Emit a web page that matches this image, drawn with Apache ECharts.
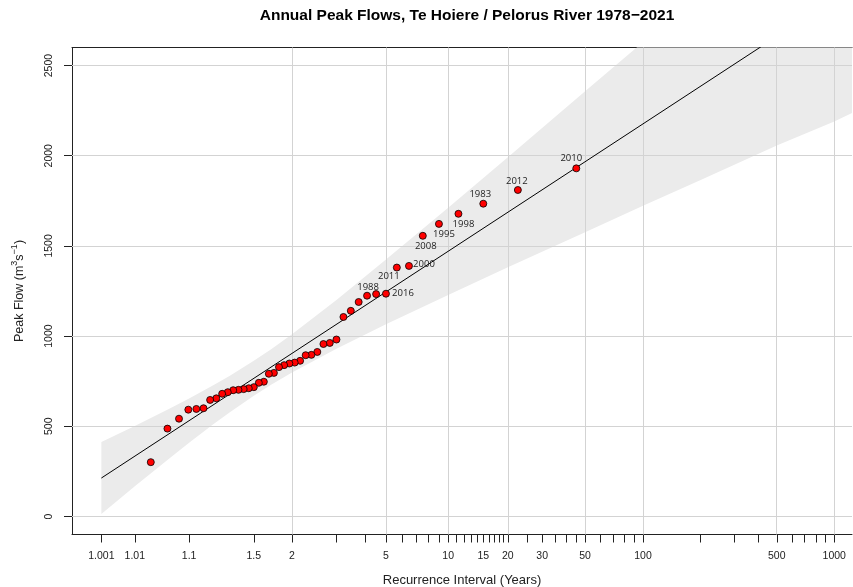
<!DOCTYPE html>
<html>
<head>
<meta charset="utf-8">
<title>Annual Peak Flows, Te Hoiere / Pelorus River</title>
<script src="https://cdn.jsdelivr.net/npm/echarts@6/dist/echarts.min.js"></script>
<style>
  html, body { margin: 0; padding: 0; background: #ffffff; }
  #chart { width: 853px; height: 587px; }
</style>
</head>
<body>
<div id="chart"></div>
<script>
// Annual maximum flows (m³/s), ranked from largest (rank 1) to smallest
const peakFlows = [
  1930, 1810, 1734, 1678, 1622, 1556, 1389, 1380, 1235, 1233,
  1224, 1189, 1140, 1106, 981, 962, 956, 912, 896, 894,
  863, 853, 848, 839, 828, 796, 791, 747, 741, 717,
  711, 706, 702, 700, 689, 680, 655, 646, 600, 596,
  592, 542, 487, 301
];
// Years of the ten largest floods, in rank order
const topYears = ['2010', '2012', '1983', '1998', '1995', '2008', '2000', '2011', '2016', '1988'];

// Fitted Gumbel (EV1) line at both ends of the return-period range
const fitPeriods = [1.001, 1000];
const fitFlows = [213, 2870];

// Confidence band around the fitted line
const bandPeriods = [1.001, 1.01, 1.05, 1.1, 1.2, 1.3, 1.5, 1.7, 2, 3, 5, 10, 20, 50, 100, 200, 500, 1000, 2000];
const bandLower   = [13, 167, 322, 409, 511, 578, 669, 731, 798, 930, 1066, 1228, 1381, 1576, 1722, 1866, 2056, 2190, 2340];
const bandUpper   = [413, 502, 597, 654, 727, 780, 863, 929, 1010, 1200, 1424, 1712, 1992, 2357, 2630, 2904, 3265, 3540, 3812];

// Return-period ticks on the Gumbel probability axis
const labelledPeriods = [1.001, 1.01, 1.1, 1.5, 2, 5, 10, 15, 20, 30, 50, 100, 500, 1000];
const minorPeriods = [3, 4, 6, 7, 8, 9, 11, 12, 13, 14, 16, 17, 18, 19, 25, 35, 40, 45,
                      60, 70, 80, 90, 200, 300, 400, 600, 700, 800, 900];
const gridPeriods = [2, 5, 10, 20, 50, 100, 500, 1000];
const flowTicks = [0, 500, 1000, 1500, 2000, 2500];

// Gumbel reduced variate of a return period T (years)
function reducedVariate(T) {
  return -Math.log(-Math.log(1 - 1 / T));
}

// Weibull plotting position T = (n + 1) / rank
const n = peakFlows.length;
const rankedPeriods = peakFlows.map((q, i) => (n + 1) / (i + 1));

// Label placement around each named point (px from the point centre)
const labelOffsets = {
  '2010': [-5, -10], '2012': [-1, -9], '1983': [-3, -9], '1998': [5, 10],
  '1995': [5, 10], '2008': [3, 10], '2000': [15, -2], '2011': [-8, 9],
  '2016': [17, 0], '1988': [-8, -7]
};

const tickText = {};
labelledPeriods.forEach(T => { tickText[reducedVariate(T).toFixed(6)] = String(T); });

const axisColor = '#222222';
const gridColor = '#d3d3d3';
const sansFont = 'Liberation Sans, Arial, sans-serif';
const xMin = -2.287;
const xMax = 7.121;

const bandData = bandPeriods.map((T, i) => [reducedVariate(T), bandLower[i], bandUpper[i]]);

const pointData = peakFlows.map((q, i) => {
  const item = { value: [reducedVariate(rankedPeriods[i]), q] };
  if (i < topYears.length) {
    const year = topYears[i];
    item.label = {
      show: true,
      formatter: year,
      position: 'inside',
      offset: labelOffsets[year],
      align: 'center',
      verticalAlign: 'middle',
      color: '#222222',
      fontFamily: 'Open Sans, sans-serif',
      fontSize: 9.5
    };
  }
  return item;
});

const chart = echarts.init(document.getElementById('chart'), null, { renderer: 'canvas' });

chart.setOption({
  animation: false,
  backgroundColor: '#ffffff',
  title: {
    text: 'Annual Peak Flows, Te Hoiere / Pelorus River 1978\u22122021',
    left: 467,
    top: 8,
    padding: 0,
    textAlign: 'center',
    textStyle: { fontFamily: sansFont, fontSize: 15.5, fontWeight: 'bold', color: '#000000' }
  },
  grid: {
    left: 72, top: 47.5, right: 1, height: 487,
    show: false,
    outerBoundsMode: 'none',
    containLabel: false
  },
  xAxis: [
    {
      type: 'value',
      min: xMin,
      max: xMax,
      name: 'Recurrence Interval (Years)',
      nameLocation: 'middle',
      nameGap: 39,
      nameTextStyle: { fontFamily: sansFont, fontSize: 13, color: axisColor },
      axisLine: { show: true, onZero: false, lineStyle: { color: axisColor, width: 1 } },
      axisTick: {
        show: true, inside: false, length: 8,
        customValues: labelledPeriods.concat(minorPeriods).map(reducedVariate),
        lineStyle: { color: axisColor, width: 1 }
      },
      axisLabel: {
        show: true, margin: 16,
        customValues: labelledPeriods.map(reducedVariate),
        formatter: v => tickText[v.toFixed(6)] || '',
        fontFamily: sansFont, fontSize: 10.5, color: axisColor
      },
      splitLine: { show: false }
    },
    {
      // frame line along the top of the plot
      type: 'value',
      position: 'top',
      min: xMin,
      max: xMax,
      axisLine: { show: true, onZero: false, lineStyle: { color: axisColor, width: 1 } },
      axisTick: { show: false },
      axisLabel: { show: false },
      splitLine: { show: false }
    }
  ],
  yAxis: {
    type: 'value',
    min: -100,
    max: 2600,
    name: '{n|Peak Flow (m}{s|3}{n|s}{s|\u22121}{n|)}',
    nameLocation: 'middle',
    nameRotate: 90,
    nameGap: 46,
    nameTextStyle: {
      color: axisColor,
      rich: {
        n: { fontFamily: sansFont, fontSize: 12.5, color: axisColor, verticalAlign: 'bottom', lineHeight: 16 },
        s: { fontFamily: sansFont, fontSize: 9, color: axisColor, verticalAlign: 'top', lineHeight: 16 }
      }
    },
    axisLine: { show: true, onZero: false, lineStyle: { color: axisColor, width: 1 } },
    axisTick: {
      show: true, inside: false, length: 8,
      customValues: flowTicks,
      lineStyle: { color: axisColor, width: 1 }
    },
    axisLabel: {
      show: true, margin: 17, rotate: 90,
      customValues: flowTicks,
      formatter: v => String(v),
      fontFamily: sansFont, fontSize: 10.5, color: axisColor
    },
    splitLine: { show: false }
  },
  series: [
    {
      // confidence band, drawn as one polygon (upper edge out, lower edge back)
      type: 'custom',
      coordinateSystem: 'cartesian2d',
      clip: true,
      silent: true,
      z: 1,
      encode: { x: 0, y: [1, 2] },
      data: bandData,
      renderItem: (params, api) => {
        if (params.dataIndex !== 0) return null;
        const upper = bandData.map(d => api.coord([d[0], d[2]]));
        const lower = bandData.map(d => api.coord([d[0], d[1]])).reverse();
        return {
          type: 'polygon',
          shape: { points: upper.concat(lower) },
          style: { fill: '#ebebeb', stroke: null }
        };
      }
    },
    {
      // reference grid, above the band but below the fit and the points
      type: 'line',
      z: 2,
      silent: true,
      data: [],
      markLine: {
        z: 2,
        silent: true,
        symbol: ['none', 'none'],
        label: { show: false },
        lineStyle: { color: gridColor, type: 'solid', width: 1 },
        data: gridPeriods.map(T => ({ xAxis: reducedVariate(T) }))
          .concat(flowTicks.map(v => ({ yAxis: v })))
      }
    },
    {
      // fitted Gumbel distribution
      type: 'line',
      z: 3,
      silent: true,
      symbol: 'none',
      lineStyle: { color: '#000000', width: 1 },
      data: fitPeriods.map((T, i) => [reducedVariate(T), fitFlows[i]])
    },
    {
      type: 'scatter',
      z: 4,
      symbol: 'circle',
      symbolSize: 7,
      itemStyle: { color: '#ff0000', borderColor: '#000000', borderWidth: 0.8, opacity: 1 },
      data: pointData
    }
  ]
});
</script>
</body>
</html>
